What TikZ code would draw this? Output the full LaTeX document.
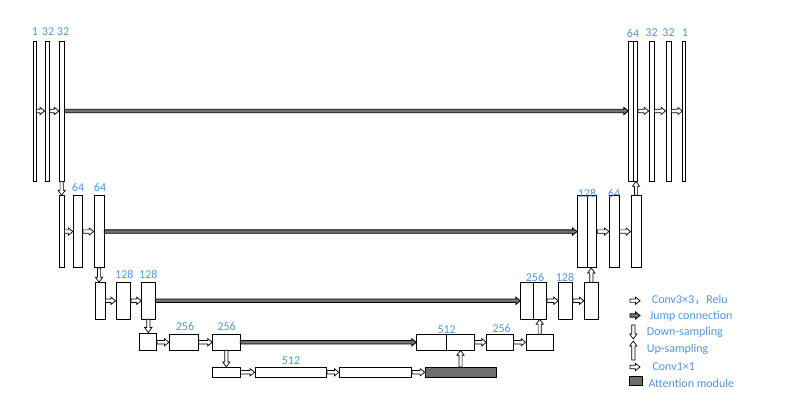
\documentclass[tikz,border=0pt]{standalone}
\usepackage{fontspec}
\setmainfont{Carlito}
\newfontfamily\cjk{Noto Sans CJK SC}
\usetikzlibrary{calc}
\definecolor{lblue}{RGB}{80,150,220}
\definecolor{attgray}{RGB}{110,110,110}
\tikzset{
  blk/.style={draw, line width=0.75pt, inner sep=0pt, minimum width=#1},
  lbl/.style={text=lblue, inner sep=0pt, font=\fontsize{12}{12}\selectfont},
  key/.style={text=lblue, inner sep=0pt, anchor=west, font=\fontsize{12}{12}\selectfont},
  conv/.style={draw, fill=white, line width=0.7pt, line join=miter},
  jump/.style={draw, fill=black!55, line width=0.8pt, line join=miter},
  rarr/.style={to path={let \p1=(\tikztostart), \p2=(\tikztotarget) in
    (\x1,{\y1+1.7pt}) -- ({\x2-4.5pt},{\y1+1.7pt}) -- ({\x2-4.5pt},{\y1+3.6pt}) -- (\x2,\y1)
    -- ({\x2-4.5pt},{\y1-3.6pt}) -- ({\x2-4.5pt},{\y1-1.7pt}) -- (\x1,{\y1-1.7pt}) -- cycle}},
  darr/.style={to path={let \p1=(\tikztostart), \p2=(\tikztotarget) in
    ({\x1-1.6pt},\y1) -- ({\x1-1.6pt},{\y2+5pt}) -- ({\x1-3.6pt},{\y2+5pt}) -- (\x1,\y2)
    -- ({\x1+3.6pt},{\y2+5pt}) -- ({\x1+1.6pt},{\y2+5pt}) -- ({\x1+1.6pt},\y1) -- cycle}},
  uarr/.style={to path={let \p1=(\tikztostart), \p2=(\tikztotarget) in
    ({\x1-1.6pt},\y1) -- ({\x1-1.6pt},{\y2-5pt}) -- ({\x1-3.6pt},{\y2-5pt}) -- (\x1,\y2)
    -- ({\x1+3.6pt},{\y2-5pt}) -- ({\x1+1.6pt},{\y2-5pt}) -- ({\x1+1.6pt},\y1) -- cycle}}
}
\begin{document}
\begin{tikzpicture}[x=1pt,y=-1pt]
  \useasboundingbox (0,0) rectangle (793,419);
  % level 1
  \node[blk=2.5pt, minimum height=140pt] (e1a) at (34.7,111) {};
  \node[blk=4.5pt, minimum height=140pt] (e1b) at (47.2,111) {};
  \node[blk=5pt,   minimum height=140pt] (e1c) at (61.7,111) {};
  \node[blk=4.5pt, minimum height=140pt] (d1a) at (631,111) {};
  \node[blk=4.5pt, minimum height=140pt] (d1b) at (635.5,111) {};
  \node[blk=5pt,   minimum height=140pt] (d1c) at (651.5,111) {};
  \node[blk=5pt,   minimum height=140pt] (d1d) at (668.5,111) {};
  \node[blk=2.5pt, minimum height=140pt] (d1e) at (684,111) {};
  \node[lbl] (t1a) at (35,32) {1};
  \node[lbl] (t1b) at (48,32) {32};
  \node[lbl] (t1c) at (63,32) {32};
  \node[lbl] (t1d) at (633,33) {64};
  \node[lbl] (t1e) at (651.5,33) {32};
  \node[lbl] (t1f) at (668.5,33) {32};
  \node[lbl] (t1g) at (685,33) {1};
  % level 2
  \node[blk=5pt,   minimum height=72pt] (e2a) at (61.5,231.6) {};
  \node[blk=9.5pt, minimum height=72pt] (e2b) at (78,231.6) {};
  \node[blk=10pt,  minimum height=72pt] (e2c) at (99,231.6) {};
  \node[blk=9.7pt, minimum height=72pt] (d2a) at (582.3,231.6) {};
  \node[blk=9.7pt, minimum height=72pt] (d2b) at (592,231.6) {};
  \node[blk=9.7pt, minimum height=72pt] (d2c) at (614.2,231.6) {};
  \node[blk=10pt,  minimum height=72pt] (d2d) at (636,231.6) {};
  \node[lbl] (t2a) at (78,187.5) {64};
  \node[lbl] (t2b) at (100,187.5) {64};
  \node[lbl] (t2c) at (587,193) {128};
  \node[lbl] (t2d) at (614,193) {64};
  % level 3
  \node[blk=10pt,   minimum height=36.3pt] (e3a) at (100,300.8) {};
  \node[blk=14.7pt, minimum height=36.3pt] (e3b) at (123.3,300.8) {};
  \node[blk=13.3pt, minimum height=36.3pt] (e3c) at (148.3,300.8) {};
  \node[blk=13pt,   minimum height=36.3pt] (d3a) at (527.2,300.8) {};
  \node[blk=13pt,   minimum height=36.3pt] (d3b) at (540.2,300.8) {};
  \node[blk=14pt,   minimum height=36.3pt] (d3c) at (565.7,300.8) {};
  \node[blk=14pt,   minimum height=36.3pt] (d3d) at (591.3,300.8) {};
  \node[lbl] (t3a) at (124.3,274.5) {128};
  \node[lbl] (t3b) at (148.3,274.5) {128};
  \node[lbl] (t3c) at (535,277) {256};
  \node[lbl] (t3d) at (565,277) {128};
  % level 4
  \node[blk=17.4pt, minimum height=17.7pt] (e4a) at (148,341.8) {};
  \node[blk=29pt,   minimum height=15.3pt] (e4b) at (183.8,342.3) {};
  \node[blk=27.3pt, minimum height=15.3pt] (e4c) at (226.3,342.3) {};
  \node[blk=30pt,   minimum height=15.3pt] (d4a) at (431.7,342.3) {};
  \node[blk=27.6pt, minimum height=15.3pt] (d4b) at (460.5,342.3) {};
  \node[blk=26.6pt, minimum height=15.3pt] (d4c) at (500,342.3) {};
  \node[blk=27.3pt, minimum height=15.3pt] (d4d) at (539.7,342.3) {};
  \node[lbl] (t4a) at (185,326.8) {256};
  \node[lbl] (t4b) at (226.7,326.8) {256};
  \node[lbl] (t4c) at (446.7,329.5) {512};
  \node[lbl] (t4d) at (501.7,328.5) {256};
  % level 5
  \node[blk=27.7pt, minimum height=10pt] (b5a) at (226.2,372.3) {};
  \node[blk=71.7pt, minimum height=10pt] (b5b) at (290.8,372.3) {};
  \node[blk=72.4pt, minimum height=10pt] (b5c) at (375.5,372.3) {};
  \node[blk=71pt, minimum height=10pt, fill=attgray] (att) at (460.5,372.3) {};
  \node[lbl] (t5a) at (291,360.8) {512};
  % conv arrows
  \draw[conv, rarr] (e1a.east) to (e1b.west);
  \draw[conv, rarr] (e1b.east) to (e1c.west);
  \draw[conv, rarr] (d1b.east) to (d1c.west);
  \draw[conv, rarr] (d1c.east) to (d1d.west);
  \draw[conv, rarr] (d1d.east) to (d1e.west);
  \draw[conv, rarr] (e2a.east) to (e2b.west);
  \draw[conv, rarr] (e2b.east) to (e2c.west);
  \draw[conv, rarr] (d2b.east) to (d2c.west);
  \draw[conv, rarr] (d2c.east) to (d2d.west);
  \draw[conv, rarr] (e3a.east) to (e3b.west);
  \draw[conv, rarr] (e3b.east) to (e3c.west);
  \draw[conv, rarr] (d3b.east) to (d3c.west);
  \draw[conv, rarr] (d3c.east) to (d3d.west);
  \draw[conv, rarr] (e4a.east |- e4b.west) to (e4b.west);
  \draw[conv, rarr] (e4b.east) to (e4c.west);
  \draw[conv, rarr] (d4b.east) to (d4c.west);
  \draw[conv, rarr] (d4c.east) to (d4d.west);
  \draw[conv, rarr] (b5a.east) to (b5b.west);
  \draw[conv, rarr] (b5b.east) to (b5c.west);
  \draw[conv, rarr] (b5c.east) to (att.west);
  % jump connections
  \draw[jump, rarr] (e1c.east) to (d1a.west);
  \draw[jump, rarr] (e2c.east) to (d2a.west);
  \draw[jump, rarr] (e3c.east) to (d3a.west);
  \draw[jump, rarr] (e4c.east) to (d4a.west);
  % down and up
  \draw[conv, darr] (e1c.south) to (e1c.south |- e2a.north);
  \draw[conv, darr] (e2c.south) to (e2c.south |- e3a.north);
  \draw[conv, darr] (e3c.south) to (e3c.south |- e4a.north);
  \draw[conv, darr] (e4c.south) to (e4c.south |- b5a.north);
  \draw[conv, uarr] (att.north) to (att.north |- d4b.south);
  \draw[conv, uarr] (d4d.north) to (d4d.north |- d3b.south);
  \draw[conv, uarr] (d3d.north) to (d3d.north |- d2b.south);
  \draw[conv, uarr] (d2d.north) to (d2d.north |- d1b.south);
  % legend
  \coordinate (k1s) at (630,300.7);
  \coordinate (k1e) at (640,300.7);
  \coordinate (k2s) at (630,315.5);
  \coordinate (k2e) at (640,315.5);
  \coordinate (k3s) at (633.3,325);
  \coordinate (k3e) at (633.3,339);
  \coordinate (k4s) at (633.3,360);
  \coordinate (k4e) at (633.3,341);
  \coordinate (k5s) at (630,367);
  \coordinate (k5e) at (640,367);
  \draw[conv, rarr] (k1s) to (k1e);
  \draw[jump, rarr] (k2s) to (k2e);
  \draw[conv, darr] (k3s) to (k3e);
  \draw[conv, uarr] (k4s) to (k4e);
  \draw[conv, rarr] (k5s) to (k5e);
  \node[blk=13.4pt, minimum height=9pt, fill=attgray] (katt) at (636,380.5) {};
  \node[key] (c1) at (651.7,300) {Conv3×3{\cjk ，}Relu};
  \node[key] (c2) at (649.3,316.7) {Jump connection};
  \node[key] (c3) at (646.7,332.3) {Down-sampling};
  \node[key] (c4) at (646.7,349) {Up-sampling};
  \node[key] (c5) at (652.3,366.7) {Conv1×1};
  \node[key] (c6) at (648.3,383.3) {Attention module};
\end{tikzpicture}
\end{document}
